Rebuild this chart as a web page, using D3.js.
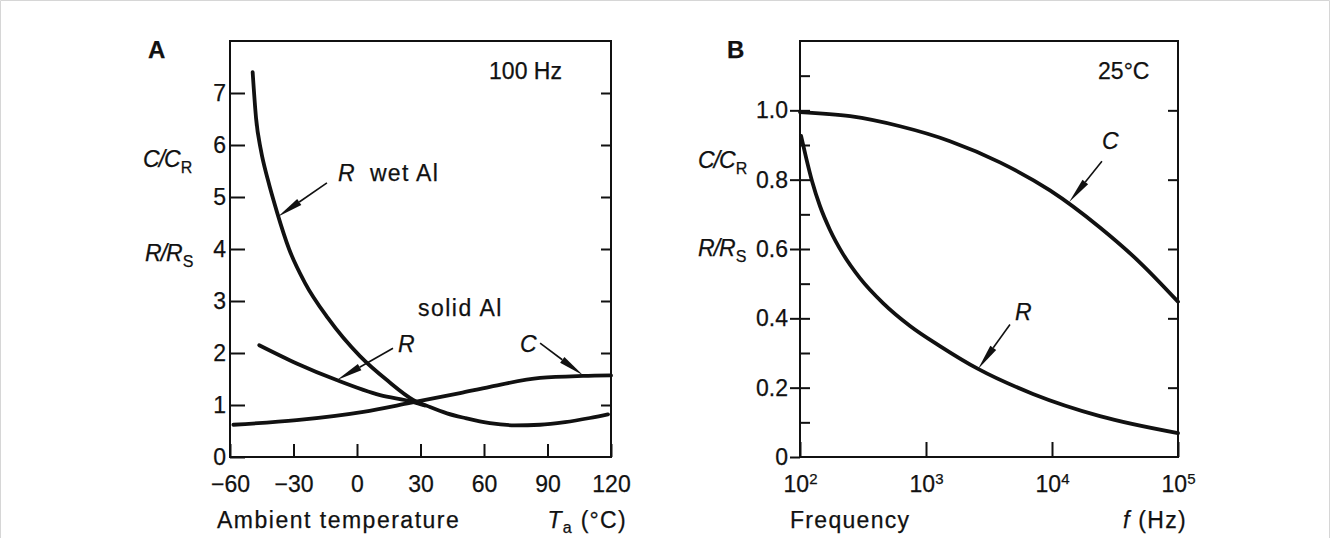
<!DOCTYPE html>
<html>
<head>
<meta charset="utf-8">
<script src="https://cdn.jsdelivr.net/npm/d3@7"></script>
<style>
    body { margin: 0; background: #fff; }
    svg text { font-family: "Liberation Sans", Arial, sans-serif; fill: #111; stroke: #111; stroke-width: 0.25; }
</style>
</head>
<body>
<div id="chart"></div>
<script>

// panel A: ratio vs ambient temperature at 100 Hz
var tempTicks = [-60, -30, 0, 30, 60, 90, 120];
var ratioTicksA = [0, 1, 2, 3, 4, 5, 6, 7];
var rWetAl = [[-49.3, 7.40], [-47.7, 6.52], [-45.4, 5.90], [-42.1, 5.33], [-37.8, 4.71], [-32.1, 4.00],
    [-24.6, 3.35], [-13.7, 2.67], [1.4, 1.94], [14.7, 1.46], [26.5, 1.10], [34.5, 0.96], [42.5, 0.84],
    [51, 0.75], [62.8, 0.65], [74.6, 0.61], [86.5, 0.62], [98.3, 0.67], [110, 0.75], [118.6, 0.82]];
var rSolidAl = [[-46.2, 2.15], [-28.5, 1.80], [-9.6, 1.48], [10.9, 1.19], [26.5, 1.06], [32, 0.99]];
var cTemp = [[-58.4, 0.62], [-28.5, 0.71], [3.0, 0.87], [25, 1.04], [48.7, 1.23], [62.8, 1.35],
    [86.5, 1.52], [106.8, 1.56], [120, 1.57]];

// panel B: ratio vs frequency at 25°C
var freqTicks = [100, 1000, 10000, 100000];
var ratioTicksB = [0, 0.2, 0.4, 0.6, 0.8, 1.0];
var minorTicksB = [0.1, 0.3, 0.5, 0.7, 0.9, 1.1];
var cFreq = [[100, 0.995], [250, 0.983], [622, 0.954], [1550, 0.911], [3860, 0.850], [9640, 0.769],
    [24000, 0.662], [49900, 0.561], [100000, 0.448]];
var rFreq = [[102, 0.926], [112, 0.862], [124.5, 0.796], [144, 0.724], [173, 0.655], [219, 0.586],
    [299, 0.516], [456, 0.444], [747, 0.378], [1290, 0.320], [2590, 0.254], [7060, 0.182],
    [24000, 0.118], [100000, 0.069]];

var width = 1330, height = 538;

var svg = d3.select("#chart").append("svg")
    .attr("width", width)
    .attr("height", height);

svg.append("rect").attr("width", width).attr("height", height).attr("fill", "#fff");
svg.append("path")
    .attr("d", "M0.5," + height + "V0.5H" + (width - 0.5) + "V" + height)
    .attr("fill", "none")
    .attr("stroke", "#d6d6d6");

var xA = d3.scaleLinear().domain([-60, 120]).range([230, 611]);
var yA = d3.scaleLinear().domain([0, 8]).range([457, 41]);
var xB = d3.scaleLog().domain([100, 100000]).range([800, 1178]);
var yB = d3.scaleLinear().domain([0, 1.2]).range([457, 41]);

function styleAxis(g) {
    g.select(".domain").remove();
    g.selectAll("line").attr("stroke", "#111").attr("stroke-width", 2);
    g.attr("font-family", null).attr("font-size", 23);
    g.selectAll("text").attr("fill", "#111");
}

function drawFrame(x, y) {
    svg.append("rect")
        .attr("x", x.range()[0])
        .attr("y", y.range()[1])
        .attr("width", x.range()[1] - x.range()[0])
        .attr("height", y.range()[0] - y.range()[1])
        .attr("fill", "none")
        .attr("stroke", "#111")
        .attr("stroke-width", 2);
}

function drawArrow(x1, y1, x2, y2) {
    var dx = x2 - x1, dy = y2 - y1, len = Math.sqrt(dx * dx + dy * dy);
    var ux = dx / len, uy = dy / len, hl = 26, hw = 3.6;
    svg.append("line")
        .attr("x1", x1).attr("y1", y1)
        .attr("x2", x2 - ux * hl).attr("y2", y2 - uy * hl)
        .attr("stroke", "#111").attr("stroke-width", 1.6);
    var bx = x2 - ux * hl, by = y2 - uy * hl;
    svg.append("path")
        .attr("d", "M" + x2 + "," + y2 + "L" + (bx - uy * hw) + "," + (by + ux * hw) +
            "L" + (bx + uy * hw) + "," + (by - ux * hw) + "Z")
        .attr("fill", "#111");
}

function ratioLabel(x, y, top, sub) {
    var t = svg.append("text").attr("x", x).attr("y", y).attr("font-size", 23);
    t.append("tspan").attr("font-style", "italic").text(top);
    t.append("tspan").attr("font-style", "italic").attr("dx", -1).text("/");
    t.append("tspan").attr("font-style", "italic").attr("dx", -1).text(top);
    t.append("tspan").attr("font-size", 16).attr("dy", 6).text(sub);
}

// ---------- panel A ----------
drawFrame(xA, yA);

svg.append("g")
    .attr("transform", "translate(" + xA.range()[0] + ",0)")
    .call(d3.axisLeft(yA).tickValues(ratioTicksA).tickSizeInner(-15).tickSizeOuter(0).tickPadding(4).tickFormat(d3.format("d")))
    .call(styleAxis);

svg.append("g")
    .attr("transform", "translate(" + xA.range()[1] + ",0)")
    .call(d3.axisRight(yA).tickValues(ratioTicksA.slice(1)).tickSizeInner(-10).tickSizeOuter(0).tickFormat(""))
    .call(styleAxis);

svg.append("g")
    .attr("transform", "translate(0," + yA.range()[0] + ")")
    .call(d3.axisBottom(xA).tickValues(tempTicks).tickSizeInner(-13).tickSizeOuter(0).tickPadding(19))
    .call(styleAxis);

var lineA = d3.line()
    .x(function (d) { return xA(d[0]); })
    .y(function (d) { return yA(d[1]); })
    .curve(d3.curveMonotoneX);

[rWetAl, rSolidAl, cTemp].forEach(function (s) {
    svg.append("path")
        .attr("d", lineA(s))
        .attr("fill", "none")
        .attr("stroke", "#111")
        .attr("stroke-width", 3.8)
        .attr("stroke-linecap", "round");
});

svg.append("text").attr("x", 148).attr("y", 58).attr("font-size", 24).attr("font-weight", "bold").text("A");
svg.append("text").attr("x", xA(62.4)).attr("y", yA(7.27)).attr("font-size", 23).text("100 Hz");
ratioLabel(143, 167, "C", "R");
ratioLabel(145, 261, "R", "S");

svg.append("text").attr("x", xA(-9)).attr("y", yA(5.31)).attr("font-size", 23).attr("font-style", "italic").text("R");
svg.append("text").attr("x", xA(6.1)).attr("y", yA(5.31)).attr("font-size", 23).attr("letter-spacing", 1.3).text("wet Al");
drawArrow(xA(-14.2), yA(5.27), xA(-37.4), yA(4.62));

svg.append("text").attr("x", xA(28.8)).attr("y", yA(2.72)).attr("font-size", 23).attr("letter-spacing", 1.5).text("solid Al");
svg.append("text").attr("x", xA(19.4)).attr("y", yA(2.01)).attr("font-size", 23).attr("font-style", "italic").text("R");
drawArrow(xA(17.0), yA(2.09), xA(-9.45), yA(1.48));

svg.append("text").attr("x", xA(77)).attr("y", yA(2.01)).attr("font-size", 23).attr("font-style", "italic").text("C");
drawArrow(xA(86.5), yA(2.19), xA(106.8), yA(1.57));

svg.append("text").attr("x", 217).attr("y", 528).attr("font-size", 23).attr("letter-spacing", 1.5).text("Ambient temperature");
var unitA = svg.append("text").attr("x", 627).attr("y", 528).attr("font-size", 23).attr("letter-spacing", 1.3).attr("text-anchor", "end");
unitA.append("tspan").attr("font-style", "italic").text("T");
unitA.append("tspan").attr("font-size", 16).attr("dy", 5).text("a");
unitA.append("tspan").attr("dy", -5).text(" (°C)");

// ---------- panel B ----------
drawFrame(xB, yB);

var fmtB = function (d) { return d === 0 ? "0" : d3.format(".1f")(d); };

svg.append("g")
    .attr("transform", "translate(" + xB.range()[0] + ",0)")
    .call(d3.axisLeft(yB).tickValues(ratioTicksB).tickSizeInner(10).tickSizeOuter(0).tickPadding(2).tickFormat(fmtB))
    .call(styleAxis);

svg.append("g")
    .attr("transform", "translate(" + xB.range()[0] + ",0)")
    .call(d3.axisLeft(yB).tickValues(ratioTicksB.slice(1).concat(minorTicksB)).tickSizeInner(-10).tickSizeOuter(0).tickFormat(""))
    .call(styleAxis);

svg.append("g")
    .attr("transform", "translate(" + xB.range()[1] + ",0)")
    .call(d3.axisRight(yB).tickValues(ratioTicksB.slice(1)).tickSizeInner(-10).tickSizeOuter(0).tickFormat(""))
    .call(styleAxis);

var xAxisB = svg.append("g")
    .attr("transform", "translate(0," + yB.range()[0] + ")")
    .call(d3.axisBottom(xB).tickValues(freqTicks).tickSizeInner(-15).tickSizeOuter(0).tickPadding(19).tickFormat(""))
    .call(styleAxis);

xAxisB.selectAll(".tick text").each(function (d) {
    var t = d3.select(this);
    t.append("tspan").text("10");
    t.append("tspan").attr("font-size", 15).attr("dy", "-0.55em").text(Math.round(Math.log10(d)));
});

var lineB = d3.line()
    .x(function (d) { return xB(d[0]); })
    .y(function (d) { return yB(d[1]); })
    .curve(d3.curveMonotoneX);

[cFreq, rFreq].forEach(function (s) {
    svg.append("path")
        .attr("d", lineB(s))
        .attr("fill", "none")
        .attr("stroke", "#111")
        .attr("stroke-width", 3.8)
        .attr("stroke-linecap", "round");
});

svg.append("text").attr("x", 727).attr("y", 58).attr("font-size", 24).attr("font-weight", "bold").text("B");
svg.append("text").attr("x", xB(23200)).attr("y", yB(1.09)).attr("font-size", 23).text("25°C");
ratioLabel(698, 168, "C", "R");
ratioLabel(698, 256, "R", "S");

svg.append("text").attr("x", xB(24900)).attr("y", yB(0.888)).attr("font-size", 23).attr("font-style", "italic").text("C");
drawArrow(xB(24900), yB(0.853), xB(13650), yB(0.735));

svg.append("text").attr("x", xB(5080)).attr("y", yB(0.396)).attr("font-size", 23).attr("font-style", "italic").text("R");
drawArrow(xB(4640), yB(0.382), xB(2590), yB(0.254));

svg.append("text").attr("x", 790).attr("y", 528).attr("font-size", 23).attr("letter-spacing", 1.3).text("Frequency");
var unitB = svg.append("text").attr("x", 1187).attr("y", 528).attr("font-size", 23).attr("letter-spacing", 1.3).attr("text-anchor", "end");
unitB.append("tspan").attr("font-style", "italic").text("f");
unitB.append("tspan").text(" (Hz)");

</script>
</body>
</html>
